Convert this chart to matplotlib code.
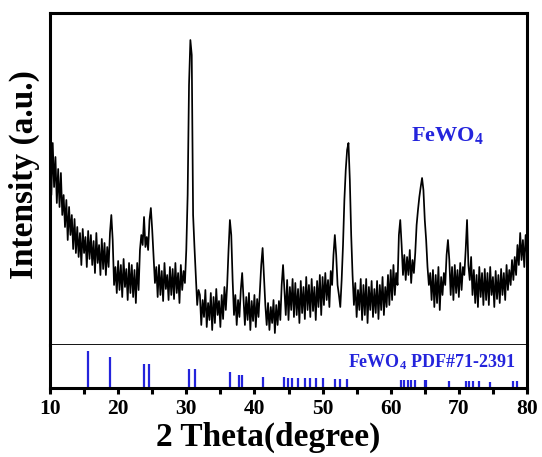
import numpy as np
import matplotlib
matplotlib.use("Agg")
import matplotlib.pyplot as plt
from matplotlib.ticker import MultipleLocator

plt.rcParams['font.family'] = ['Liberation Serif', 'DejaVu Serif']
plt.rcParams['mathtext.fontset'] = 'custom'
plt.rcParams['mathtext.rm'] = 'Liberation Serif'
plt.rcParams['mathtext.bf'] = 'Liberation Serif:bold'
plt.rcParams['mathtext.it'] = 'Liberation Serif:italic'

# measured XRD pattern, 2theta from 10 to 80 deg in 0.2 deg steps (a.u.)
theta_start, theta_step = 10.0, 0.2
intensity = [
    180, 150, 202, 158, 188, 142, 176, 138, 172, 130,   # 10-11.8
    150, 118, 145, 105, 138, 110, 130, 96, 126, 92,     # 12-13.8
    118, 88, 112, 80, 116, 92, 108, 78, 114, 86,        # 14-15.8
    110, 80, 104, 72, 112, 82, 100, 70, 106, 76,        # 16-17.8
    102, 70, 98, 78, 112, 130, 105, 60, 78, 52,         # 18-19.8
    84, 55, 80, 48, 86, 58, 76, 45, 82, 52,             # 20-21.8
    80, 48, 75, 42, 82, 55, 95, 110, 100, 128,          # 22-23.8
    98, 108, 95, 125, 137, 115, 88, 62, 78, 48,         # 24-25.8
    80, 50, 74, 44, 82, 56, 70, 45, 78, 50,             # 26-27.8
    76, 46, 82, 52, 72, 42, 80, 55, 74, 62,             # 28-29.8
    95, 150, 260, 305, 290, 130, 98, 70, 40, 55,        # 30-31.8
    50, 20, 45, 28, 55, 18, 42, 25, 52, 15,             # 32-33.8
    48, 22, 56, 30, 44, 18, 50, 26, 58, 35,             # 34-35.8
    60, 95, 125, 110, 65, 30, 50, 20, 45, 28,           # 36-37.8
    55, 72, 45, 20, 48, 25, 52, 15, 44, 24,             # 38-39.8
    50, 18, 46, 28, 55, 80, 97, 68, 40, 20,             # 40-41.8
    42, 15, 38, 22, 45, 12, 40, 20, 44, 25,             # 42-43.8
    60, 80, 55, 30, 65, 25, 58, 35, 66, 28,             # 44-45.8
    62, 30, 56, 22, 64, 32, 58, 26, 68, 35,             # 46-47.8
    60, 28, 66, 34, 58, 25, 64, 38, 70, 30,             # 48-49.8
    68, 40, 72, 45, 65, 38, 74, 60, 90, 110,            # 50-51.8
    90, 60, 50, 38, 65, 100, 145, 175, 195, 202,        # 52-53.8
    165, 110, 70, 40, 62, 28, 55, 35, 66, 25,           # 54-55.8
    60, 30, 66, 22, 58, 35, 64, 28, 56, 32,             # 56-57.8
    64, 26, 60, 35, 68, 30, 58, 38, 70, 40,             # 58-59.8
    75, 45, 80, 50, 72, 60, 110, 125, 100, 70,          # 60-61.8
    90, 65, 88, 70, 95, 62, 85, 72, 92, 120,            # 62-63.8
    135, 148, 158, 167, 155, 125, 105, 78, 60, 72,      # 64-65.8
    45, 75, 38, 70, 42, 78, 35, 68, 50, 72,             # 66-67.8
    60, 90, 105, 85, 50, 78, 45, 80, 52, 75,            # 68-69.8
    48, 82, 55, 78, 70, 95, 125, 80, 65, 88,            # 70-71.8
    50, 75, 42, 70, 38, 78, 48, 72, 40, 76,             # 72-73.8
    45, 72, 40, 78, 50, 68, 38, 74, 46, 70,             # 74-75.8
    42, 76, 50, 72, 45, 80, 55, 75, 60, 85,             # 76-77.8
    65, 88, 70, 100, 80, 112, 85, 105, 78, 110,         # 78-79.8
    90,                                                 # 80
]

# FeWO4 reference pattern PDF#71-2391 (relative intensity, %)
ref_positions = [15.6, 18.85, 23.85, 24.55, 30.45, 31.35, 36.45, 37.8, 38.2,
                 41.25, 44.3, 44.9, 45.5, 46.4, 47.4, 48.2, 49.0, 50.1, 51.8,
                 52.5, 53.6, 61.5, 62.0, 62.5, 63.0, 63.5, 65.0, 65.2, 68.6,
                 71.0, 71.5, 72.1, 73.0, 74.6, 77.9, 78.5]
ref_intensity = [100, 84, 65, 65, 51, 51, 42, 36, 36,
                 30, 30, 27, 27, 27, 27, 27, 27, 27, 24,
                 24, 24, 22, 22, 22, 22, 22, 22, 22, 19,
                 19, 19, 19, 19, 16, 19, 19]

xticks = [10, 20, 30, 40, 50, 60, 70, 80]

two_theta = theta_start + theta_step * np.arange(len(intensity))

W, H = 542, 457
fig = plt.figure(figsize=(W / 100, H / 100), dpi=100)
blue = '#2424dc'
spine_w = 2.2

ax1 = fig.add_axes([50 / W, 1 - 345 / H, 477 / W, 332 / H])
ax2 = fig.add_axes([50 / W, 1 - 388 / H, 477 / W, 43 / H], sharex=ax1)

ax1.plot(two_theta, intensity, color='black', lw=1.25)
ax1.set_xlim(10, 80)
ax1.set_ylim(0, 332)
ax1.set_yticks([])
ax1.tick_params(axis='x', bottom=False, labelbottom=False)
for s in ['top', 'left', 'right']:
    ax1.spines[s].set_linewidth(spine_w)
ax1.spines['bottom'].set_linewidth(1.3)
ax1.text((447 - 50) / 477, 1 - 123 / 332, r'$\mathbf{FeWO_4}$', transform=ax1.transAxes,
         color=blue, fontsize=16, ha='center', va='center')

ax2.vlines(ref_positions, 0, ref_intensity, color=blue, lw=1.6)
ax2.set_ylim(0, 116)
ax2.set_yticks([])
ax2.spines['top'].set_visible(False)
for s in ['bottom', 'left', 'right']:
    ax2.spines[s].set_linewidth(spine_w)
ax2.set_xticks(xticks)
ax2.xaxis.set_minor_locator(MultipleLocator(5))
ax2.tick_params(axis='x', which='both', direction='out', length=4, width=2.2,
                labelsize=15.5, pad=4)
for lab in ax2.get_xticklabels():
    lab.set_fontweight('bold')
ax2.text(0.975, 0.6, r'$\mathbf{FeWO_4}$ PDF#71-2391', transform=ax2.transAxes,
         color=blue, fontsize=13, fontweight='bold', ha='right', va='center')

fig.text(268 / W, 1 - 437 / H, '2 Theta(degree)', fontsize=24, fontweight='bold',
         ha='center', va='center')
fig.text(24 / W, 1 - 175 / H, 'Intensity (a.u.)', fontsize=24, fontweight='bold',
         ha='center', va='center', rotation=90)

fig.savefig('out.png', dpi=100)
